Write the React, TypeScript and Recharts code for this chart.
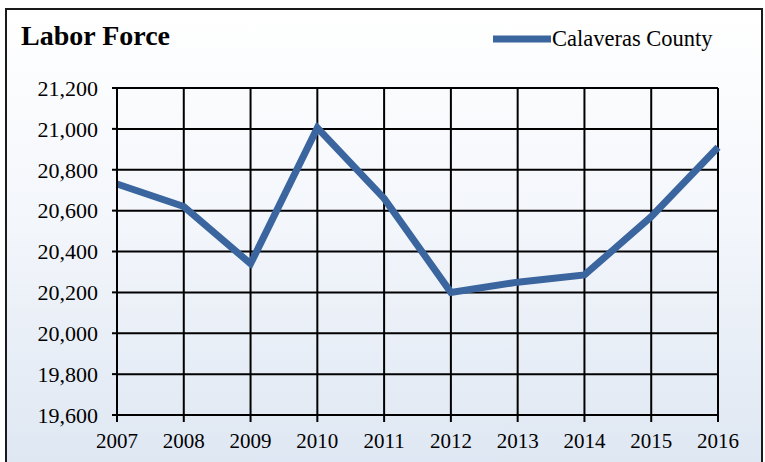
import React from 'react';
import { LineChart, Line, XAxis, YAxis, CartesianGrid } from 'recharts';

const years = ['2007', '2008', '2009', '2010', '2011', '2012', '2013', '2014', '2015', '2016'];
const laborForce = [20730, 20620, 20340, 21005, 20660, 20200, 20250, 20285, 20570, 20910];
const yTicks = [19600, 19800, 20000, 20200, 20400, 20600, 20800, 21000, 21200];
const seriesName = 'Calaveras County';
const title = 'Labor Force';

const data = years.map((y, i) => ({ year: y, value: laborForce[i] }));

const FONT = 'Liberation Serif';
const LINE_COLOR = '#3a659e';

const fmt = (v: number) => v.toLocaleString('en-US');

export default function App() {
  return (
    <div style={{ position: 'absolute', left: 0, top: 0, width: 765, height: 462, overflow: 'hidden', background: '#ffffff', fontFamily: FONT }}>
      <div
        style={{
          position: 'absolute',
          left: 5,
          top: 8,
          width: 754,
          height: 470,
          border: '2px solid #1a1a1a',
          background: 'linear-gradient(180deg, #ffffff 0%, #f3f6fb 45%, #dde6f2 100%)',
        }}
      />
      <svg style={{ position: 'absolute', left: 0, top: 0 }} width={765} height={462}>
        <text x={21} y={45} style={{ fontFamily: FONT, fontWeight: 'bold', fontSize: 28 }} fill="#000">
          {title}
        </text>
        <line x1={493} y1={39} x2={551} y2={39} stroke={LINE_COLOR} strokeWidth={7} />
        <text x={552} y={46} style={{ fontFamily: FONT, fontSize: 22.5 }} fill="#000">
          {seriesName}
        </text>
      </svg>
      <div style={{ position: 'absolute', left: 0, top: 0 }}>
        <LineChart
          width={765}
          height={462}
          data={data}
          margin={{ top: 88, right: 47, bottom: 0, left: 0 }}
          style={{ fontFamily: FONT }}
        >
          <CartesianGrid stroke="#000" strokeWidth={2} vertical horizontal />
          <XAxis
            dataKey="year"
            scale="point"
            padding={{ left: 0, right: 0 }}
            height={47}
            tickSize={7}
            tickMargin={11}
            axisLine={{ stroke: '#000', strokeWidth: 2 }}
            tickLine={{ stroke: '#000', strokeWidth: 2 }}
            tick={{ fill: '#000', fontSize: 21, fontFamily: FONT, style: { fontFamily: FONT } }}
            interval={0}
          />
          <YAxis
            domain={[19600, 21200]}
            ticks={yTicks}
            width={117}
            tickSize={5}
            tickMargin={14}
            tickFormatter={fmt}
            axisLine={{ stroke: '#000', strokeWidth: 2 }}
            tickLine={{ stroke: '#000', strokeWidth: 2 }}
            tick={{ fill: '#000', fontSize: 22, fontFamily: FONT, style: { fontFamily: FONT } }}
            interval={0}
          />
          <Line
            type="linear"
            dataKey="value"
            name={seriesName}
            stroke={LINE_COLOR}
            strokeWidth={7}
            dot={false}
            activeDot={false}
            isAnimationActive={false}
          />
        </LineChart>
      </div>
    </div>
  );
}
